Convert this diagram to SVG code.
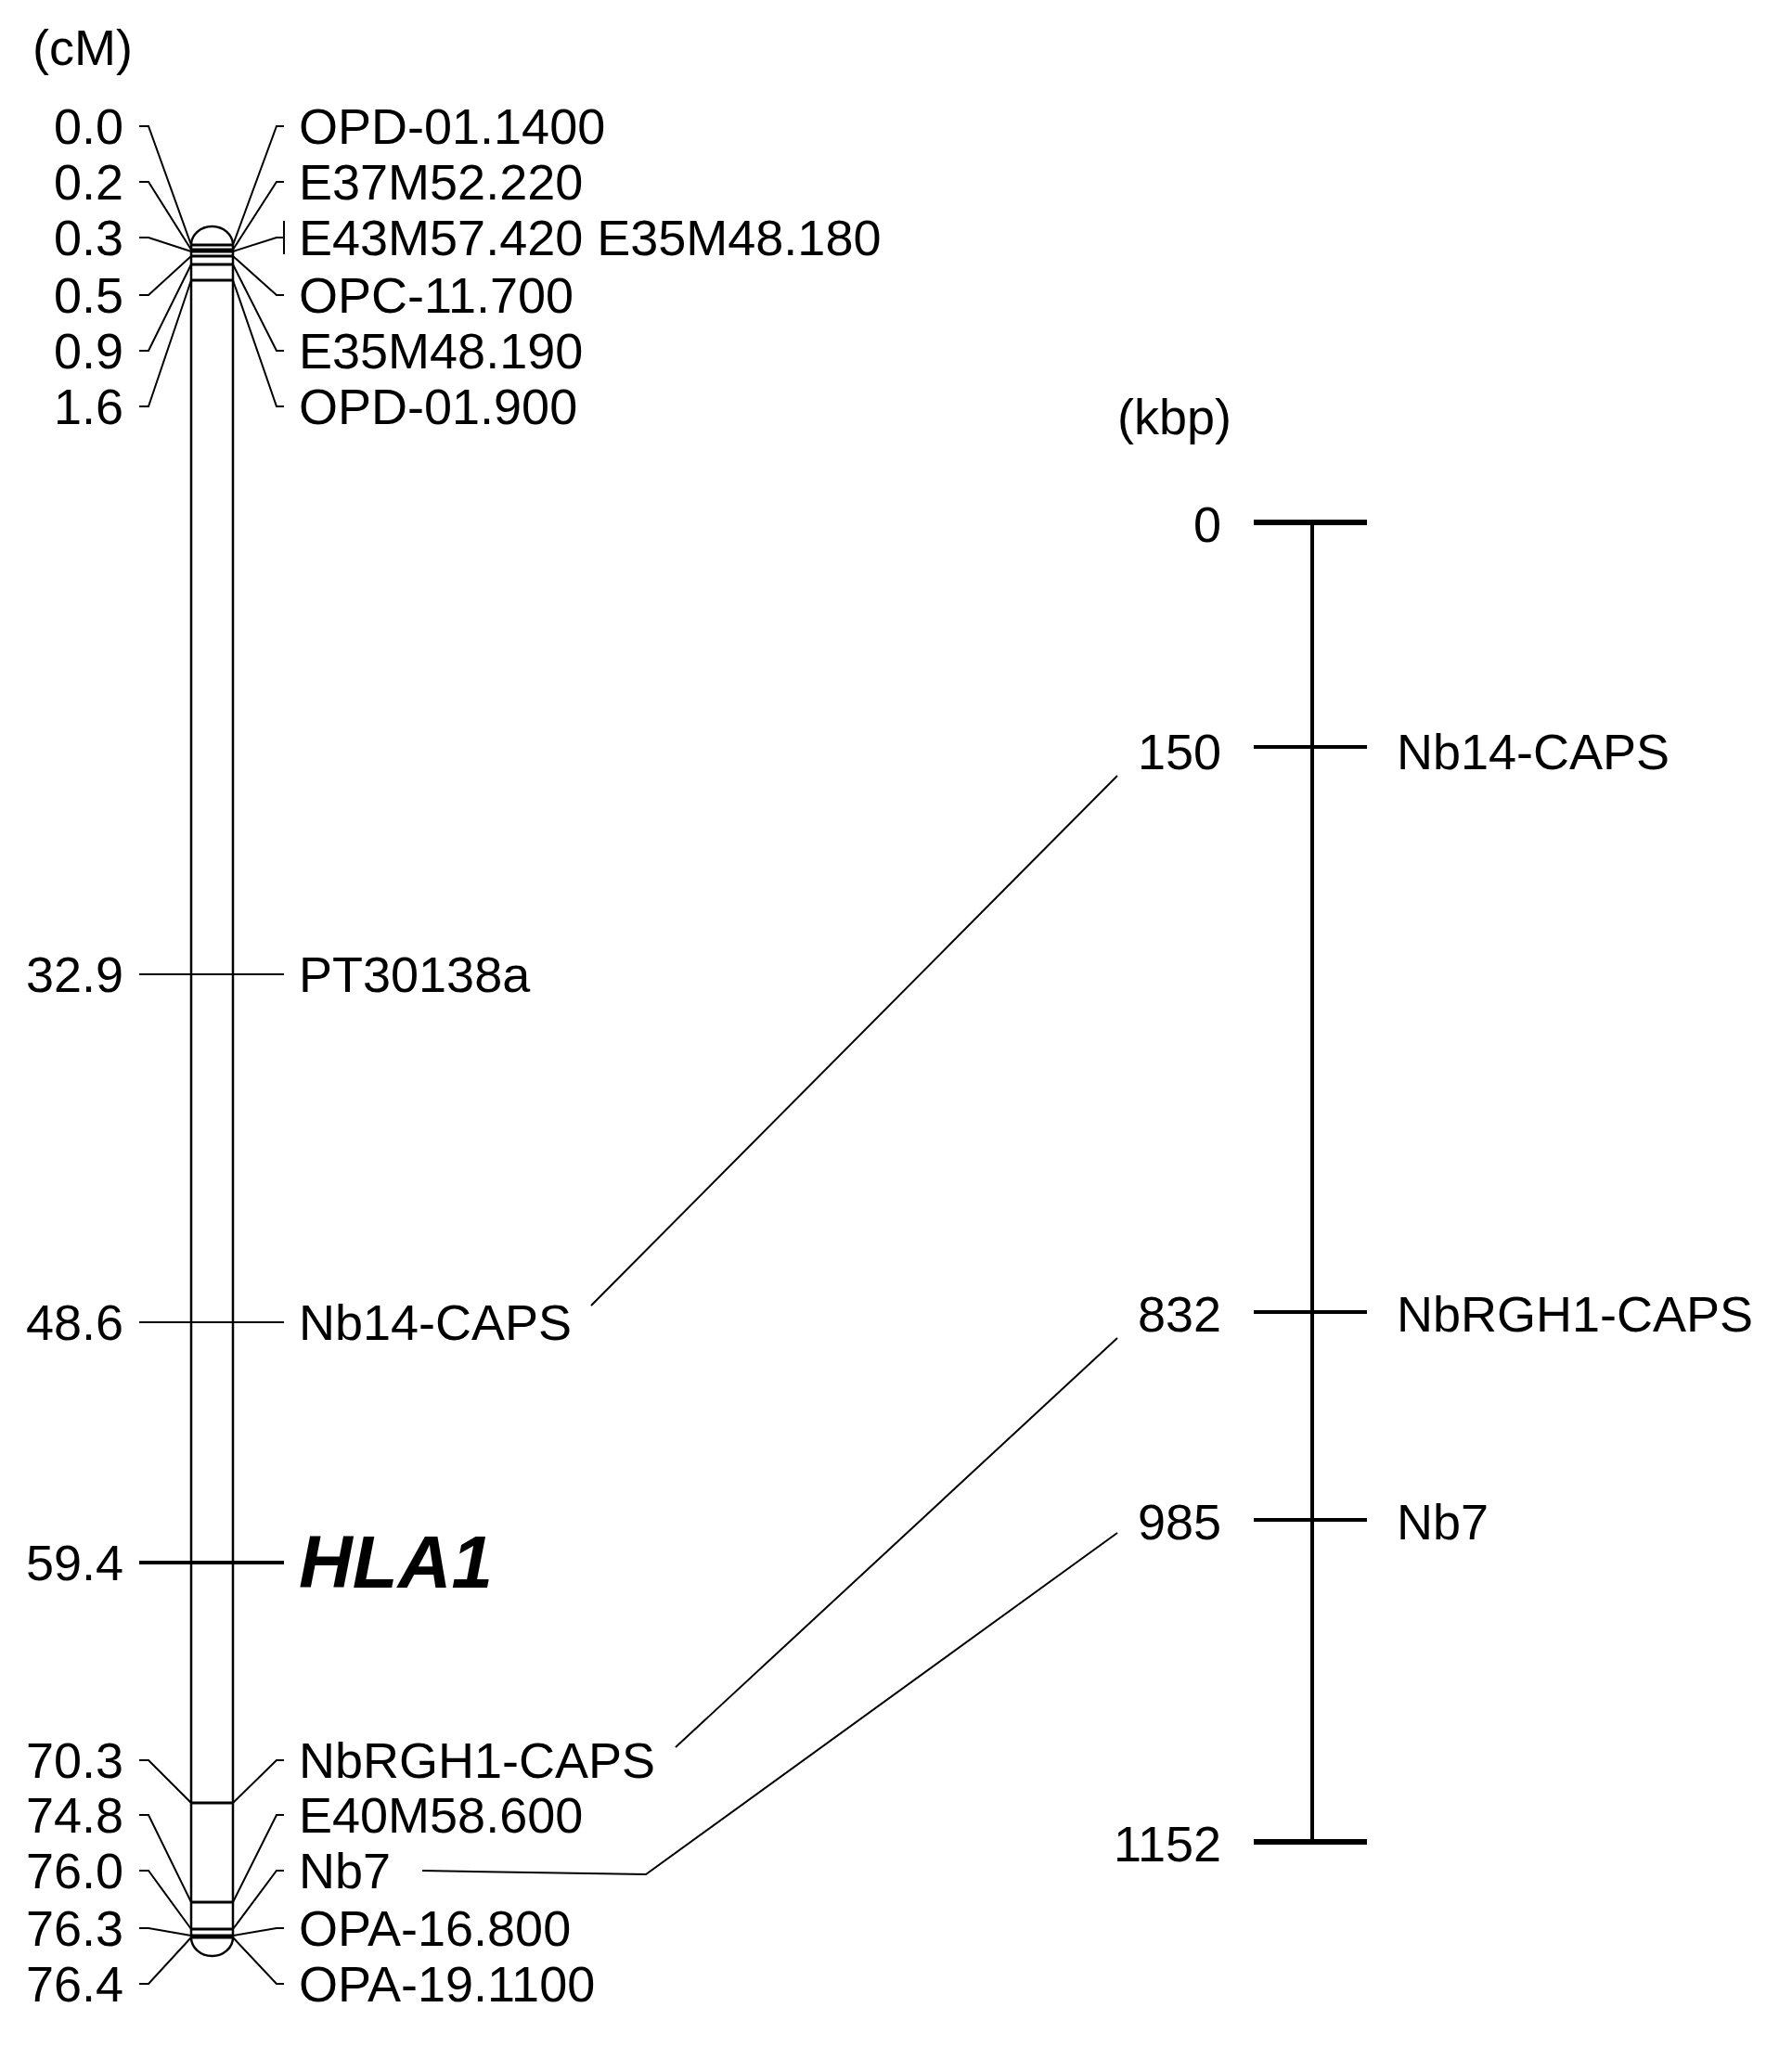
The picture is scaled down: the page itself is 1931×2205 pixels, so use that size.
<svg xmlns="http://www.w3.org/2000/svg" width="1931" height="2205" viewBox="0 0 1931 2205">
<style>
text{font-family:"Liberation Sans",Arial,sans-serif;font-size:54px;fill:#000}
.r{text-anchor:end}
.t{stroke:#000;stroke-width:2;fill:none}
.m{stroke:#000;stroke-width:4;fill:none}
.k{stroke:#000;stroke-width:6;fill:none}
.c{stroke:#000;stroke-width:2.5}
</style>
<rect width="1931" height="2205" fill="#fff"/>
<text x="35" y="70">(cM)</text>
<text x="1204" y="468">(kbp)</text>
<g id="chromosome">
<path class="c" d="M206,264 A22.5,20 0 0 1 251,264 L251,2088 A22.5,20 0 0 1 206,2088 Z" fill="#fff"/>
<g stroke="#000" stroke-width="3">
<line x1="206" y1="264" x2="251" y2="264"/><line x1="206" y1="269" x2="251" y2="269"/>
<line x1="206" y1="271" x2="251" y2="271"/><line x1="206" y1="276" x2="251" y2="276"/>
<line x1="206" y1="285" x2="251" y2="285"/><line x1="206" y1="302" x2="251" y2="302"/>
<line x1="206" y1="1943" x2="251" y2="1943"/><line x1="206" y1="2050" x2="251" y2="2050"/>
<line x1="206" y1="2079" x2="251" y2="2079"/><line x1="206" y1="2086" x2="251" y2="2086"/>
<line x1="206" y1="2088" x2="251" y2="2088"/>
</g>
</g>
<g id="leaders">
<polyline class="t" points="150,136 160,136 206,264"/>
<polyline class="t" points="150,196 160,196 206,269"/>
<polyline class="t" points="150,256 160,256 206,271"/>
<polyline class="t" points="150,318 160,318 206,276"/>
<polyline class="t" points="150,378 160,378 206,285"/>
<polyline class="t" points="150,438 160,438 206,302"/>
<polyline class="t" points="251,264 298,136 306,136"/>
<polyline class="t" points="251,269 298,196 306,196"/>
<polyline class="t" points="251,271 298,256 306,256"/>
<line class="t" x1="306" y1="238" x2="306" y2="274"/>
<polyline class="t" points="251,276 298,318 306,318"/>
<polyline class="t" points="251,285 298,378 306,378"/>
<polyline class="t" points="251,302 298,438 306,438"/>
<line class="t" x1="150" y1="1050" x2="306" y2="1050"/>
<line class="t" x1="150" y1="1425" x2="306" y2="1425"/>
<line class="m" x1="150" y1="1684" x2="306" y2="1684"/>
<polyline class="t" points="150,1897 160,1897 206,1943"/>
<polyline class="t" points="150,1956 160,1956 206,2050"/>
<polyline class="t" points="150,2016 160,2016 206,2079"/>
<polyline class="t" points="150,2078 160,2078 206,2086"/>
<polyline class="t" points="150,2138 160,2138 206,2088"/>
<polyline class="t" points="251,1943 298,1897 306,1897"/>
<polyline class="t" points="251,2050 298,1956 306,1956"/>
<polyline class="t" points="251,2079 298,2016 306,2016"/>
<polyline class="t" points="251,2086 298,2078 306,2078"/>
<polyline class="t" points="251,2088 298,2138 306,2138"/>
</g>
<g id="left-labels">
<text class="r" x="133" y="155">0.0</text><text class="r" x="133" y="215">0.2</text>
<text class="r" x="133" y="275">0.3</text><text class="r" x="133" y="337">0.5</text>
<text class="r" x="133" y="397">0.9</text><text class="r" x="133" y="457">1.6</text>
<text class="r" x="133" y="1069">32.9</text><text class="r" x="133" y="1444">48.6</text>
<text class="r" x="133" y="1703">59.4</text>
<text class="r" x="133" y="1916">70.3</text><text class="r" x="133" y="1975">74.8</text>
<text class="r" x="133" y="2035">76.0</text><text class="r" x="133" y="2097">76.3</text>
<text class="r" x="133" y="2157">76.4</text>
</g>
<g id="right-labels">
<text x="322" y="155">OPD-01.1400</text><text x="322" y="215">E37M52.220</text>
<text x="322" y="275">E43M57.420 E35M48.180</text><text x="322" y="337">OPC-11.700</text>
<text x="322" y="397">E35M48.190</text><text x="322" y="457">OPD-01.900</text>
<text x="322" y="1069">PT30138a</text><text x="322" y="1444">Nb14-CAPS</text>
<text x="322" y="1711" style="font-size:80px;font-weight:bold;font-style:italic">HLA1</text>
<text x="322" y="1916">NbRGH1-CAPS</text><text x="322" y="1975">E40M58.600</text>
<text x="322" y="2035">Nb7</text><text x="322" y="2097">OPA-16.800</text>
<text x="322" y="2157">OPA-19.1100</text>
</g>
<g id="physical-map">
<line class="m" x1="1414" y1="563" x2="1414" y2="1985"/>
<line class="k" x1="1351" y1="563" x2="1473" y2="563"/>
<line class="m" x1="1351" y1="805" x2="1473" y2="805"/>
<line class="m" x1="1351" y1="1414" x2="1473" y2="1414"/>
<line class="m" x1="1351" y1="1638" x2="1473" y2="1638"/>
<line class="k" x1="1351" y1="1985" x2="1473" y2="1985"/>
<text class="r" x="1316" y="584">0</text>
<text class="r" x="1316" y="829">150</text>
<text class="r" x="1316" y="1435">832</text>
<text class="r" x="1316" y="1659">985</text>
<text class="r" x="1316" y="2006">1152</text>
<text x="1505" y="829">Nb14-CAPS</text>
<text x="1505" y="1435">NbRGH1-CAPS</text>
<text x="1505" y="1659">Nb7</text>
</g>
<g id="connectors">
<line class="t" x1="637" y1="1407" x2="1204" y2="836"/>
<line class="t" x1="728" y1="1883" x2="1204" y2="1442"/>
<polyline class="t" points="455,2016 696,2020 1204,1652"/>
</g>
</svg>
